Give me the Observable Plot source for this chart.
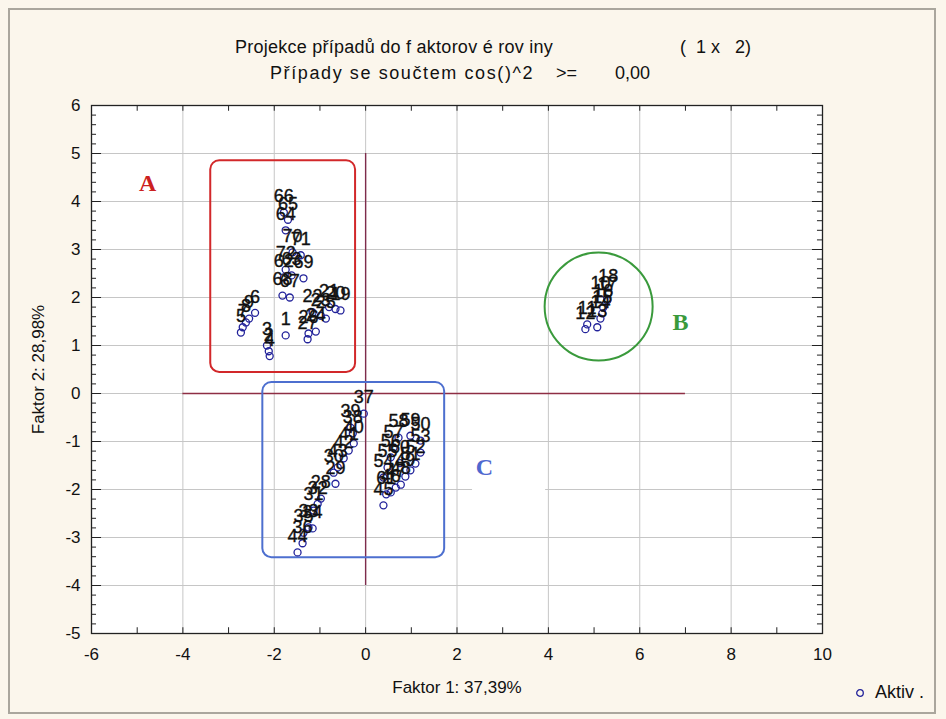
<!DOCTYPE html>
<html>
<head>
<meta charset="utf-8">
<script src="https://cdn.jsdelivr.net/npm/d3@7"></script>
<script src="https://cdn.jsdelivr.net/npm/@observablehq/plot@0.6"></script>
<style>
  html, body { margin: 0; padding: 0; background: #fbf6ec; }
  #fig { position: relative; width: 946px; height: 719px; background: #fbf6ec; overflow: hidden;
         font-family: "Liberation Sans", Arial, sans-serif; color: #111; }
  #border { position: absolute; left: 8px; top: 8px; width: 928px; height: 706px;
            border: 2px solid #aaa69d; box-sizing: border-box; pointer-events: none; }
  #header { position: relative; height: 90px; }
  .t { position: absolute; white-space: pre; font-size: 18px; line-height: 20px; }
  #t1 { letter-spacing: 0.25px; }
  #t2 { letter-spacing: 1.6px; }
  #chart { position: relative; }
  #legend { position: absolute; left: 855px; top: 682px; font-size: 18px; white-space: pre; }
  #legend svg { vertical-align: middle; margin-right: 10px; }
</style>
</head>
<body>
<div id="fig">
  <div id="header">
    <div class="t" id="t1" style="left:235px; top:37px;"></div>
    <div class="t" id="t1b" style="left:680px; top:37px;"></div>
    <div class="t" id="t2" style="left:270px; top:63px;"></div>
    <div class="t" id="t2b" style="left:556px; top:63px;"></div>
    <div class="t" id="t2c" style="left:615px; top:63px;"></div>
  </div>
  <div id="chart"></div>
  <div id="legend"><svg width="10" height="10"><circle cx="5" cy="5" r="3.3" fill="none" stroke="#22229a" stroke-width="1.3"/></svg><span id="legendText"></span></div>
  <div id="border"></div>
</div>
<script>
// Case coordinates on the first two factors
const caseIds = [
  1, 2, 3, 4, 5, 6, 7, 8, 9,
  10, 11, 12, 13, 14, 15, 16, 17, 18,
  19, 20, 21, 22, 23, 24, 25, 26, 27,
  28, 29, 30, 31, 32, 33, 34, 35, 36, 37, 38, 39, 40, 41, 42, 43, 44,
  45, 46, 47, 48, 49, 50, 51, 52, 53, 54, 55, 56, 57, 58, 59, 60, 61,
  62, 63, 64, 65, 66, 67, 68, 69, 70, 71, 72
];
const factor1 = [
  -1.75, -2.12, -2.16, -2.10, -2.73, -2.42, -2.69, -2.62, -2.55,
  5.14, 4.85, 4.81, 5.07, 5.14, 5.18, 5.20, 5.29, 5.31,
  -0.55, -0.66, -0.80, -1.16, -0.98, -1.09, -0.87, -1.25, -1.27,
  -0.98, -0.66, -0.70, -1.14, -1.05, -1.25, -1.16, -1.36, -1.38, -0.04, -0.28, -0.33, -0.26, -0.37, -0.48, -0.61, -1.49,
  0.39, 0.55, 0.66, 0.77, 0.87, 1.20, 0.98, 1.09, 1.20, 0.39, 0.48, 0.55, 0.61, 0.72, 0.98, 0.75, 0.45,
  -1.79, -1.62, -1.75, -1.70, -1.79, -1.66, -1.82, -1.36, -1.60, -1.42, -1.75
];
const factor2 = [
  1.21, 0.88, 1.00, 0.78, 1.27, 1.68, 1.38, 1.48, 1.56,
  1.96, 1.44, 1.34, 1.38, 1.56, 1.67, 1.79, 1.94, 2.10,
  1.73, 1.76, 1.80, 1.69, 1.62, 1.29, 1.56, 1.25, 1.13,
  -2.19, -1.88, -1.65, -2.44, -2.30, -2.79, -2.81, -2.90, -3.12, -0.42, -0.83, -0.71, -1.04, -1.19, -1.35, -1.54, -3.31,
  -2.33, -2.06, -1.96, -1.90, -1.73, -0.98, -1.60, -1.46, -1.23, -1.75, -1.54, -1.33, -1.13, -0.92, -0.88, -1.45, -2.10,
  2.42, 2.46, 3.40, 3.62, 3.77, 2.00, 2.04, 2.40, 2.94, 2.88, 2.58
];

// Axis ticks and texts
const xTicks = [-6, -4, -2, 0, 2, 4, 6, 8, 10];
const yTicks = [-5, -4, -3, -2, -1, 0, 1, 2, 3, 4, 5, 6];
const xLabel = "Faktor 1: 37,39%";
const yLabel = "Faktor 2: 28,98%";
const titleLine1 = "Projekce případů do f aktorov é rov iny";
const titleLine1b = "(  1 x   2)";
const titleLine2 = "Případy se součtem cos()^2";
const titleLine2b = ">=";
const titleLine2c = "0,00";
const legendLabel = "Aktiv .";

// Group outlines and their letters
const groupNames = ["A", "B", "C"];
const groupColors = ["#cc2020", "#3a9a3c", "#4f68cf"];
const letterX = [-4.77, 6.89, 2.60];
const letterY = [4.375, 1.48, -1.54];
const boxX1 = [-3.39, -2.25];
const boxX2 = [-0.22, 1.73];
const boxY1 = [0.44, -3.42];
const boxY2 = [4.85, 0.23];
const boxColors = ["#d2282a", "#4d6fcf"];
const circleCenter = [5.10, 1.81];

document.getElementById("t1").textContent = titleLine1;
document.getElementById("t1b").textContent = titleLine1b;
document.getElementById("t2").textContent = titleLine2;
document.getElementById("t2b").textContent = titleLine2b;
document.getElementById("t2c").textContent = titleLine2c;
document.getElementById("legendText").textContent = legendLabel;

const cases = caseIds.map((id, i) => ({id, f1: factor1[i], f2: factor2[i]}));
const boxes = boxX1.map((x1, i) => ({x1, x2: boxX2[i], y1: boxY1[i], y2: boxY2[i], color: boxColors[i]}));
const letters = groupNames.map((name, i) => ({name, x: letterX[i], y: letterY[i], color: groupColors[i]}));
// White patch under the "C" letter
const patches = [{x1: 2.34, x2: 3.94, y1: -2.23, y2: -1.19}];

const xMinor = d3.range(-6, 10.001, 1);
const yMinor = d3.range(-5, 6.001, 0.2).map(v => Math.round(v * 10) / 10);
const xLen = 0.12, yLen = 0.11; // inward tick lengths in data units

const fontFamily = '"Liberation Sans", Arial, sans-serif';

const chart = Plot.plot({
  width: 946,
  height: 629,
  marginLeft: 91,
  marginRight: 124,
  marginTop: 15,
  marginBottom: 86,
  x: {domain: [-6, 10], axis: null},
  y: {domain: [-5, 6], axis: null},
  style: {background: "transparent", fontFamily, fontSize: "16px", color: "#111", overflow: "visible"},
  marks: [
    Plot.frame({fill: "white", stroke: null}),
    Plot.gridX(xTicks, {stroke: "#c6c6c6", strokeOpacity: 1}),
    Plot.gridY(yTicks, {stroke: "#c6c6c6", strokeOpacity: 1}),
    Plot.rect(patches, {x1: "x1", x2: "x2", y1: "y1", y2: "y2", fill: "white"}),
    // origin cross
    Plot.ruleY([0], {x1: -4, x2: 7, stroke: "#8e2e44", strokeWidth: 1.4}),
    Plot.ruleX([0], {y1: -4, y2: 5, stroke: "#7e2c4c", strokeWidth: 1.4}),
    // group outlines
    Plot.rect(boxes, {x1: "x1", x2: "x2", y1: "y1", y2: "y2", rx: 9, fill: "none", stroke: "color", strokeWidth: 2}),
    Plot.dot([circleCenter], {x: d => d[0], y: d => d[1], r: 54, fill: "none", stroke: "#3a9a3c", strokeWidth: 2}),
    // cases
    Plot.dot(cases, {x: "f1", y: "f2", r: 3.5, fill: "none", stroke: "#22229a", strokeWidth: 1.3}),
    Plot.text(cases, {x: "f1", y: "f2", text: d => String(d.id), dy: -16, fontSize: 18, fill: "#111",
      stroke: "#111", strokeWidth: 0.35}),
    // group letters
    Plot.text(letters, {x: "x", y: "y", text: "name", fill: "color", fontSize: 24, fontWeight: "bold",
      fontFamily: '"Liberation Serif", "DejaVu Serif", serif'}),
    // inward ticks on all four sides
    Plot.ruleX(xMinor, {y1: -5, y2: -5 + xLen, stroke: "#222"}),
    Plot.ruleX(xMinor, {y1: 6, y2: 6 - xLen, stroke: "#222"}),
    Plot.ruleY(yMinor, {x1: -6, x2: -6 + yLen, stroke: "#222"}),
    Plot.ruleY(yMinor, {x1: 10, x2: 10 - yLen, stroke: "#222"}),
    Plot.ruleY(yTicks, {x1: -6, x2: -6 + 2 * yLen, stroke: "#222"}),
    Plot.ruleY(yTicks, {x1: 10, x2: 10 - 2 * yLen, stroke: "#222"}),
    Plot.frame({stroke: "#222", strokeWidth: 1.3}),
    Plot.axisX(xTicks, {tickSize: 0, tickPadding: 14, tickFormat: d => String(d), fontSize: 17}),
    Plot.axisY(yTicks, {tickSize: 0, tickPadding: 11, tickFormat: d => String(d), fontSize: 17}),
    Plot.text([xLabel], {frameAnchor: "bottom", dy: 59, fontSize: 17}),
    Plot.text([yLabel], {frameAnchor: "left", dx: -53, rotate: -90, textAnchor: "middle", fontSize: 17})
  ]
});
document.getElementById("chart").appendChild(chart);
</script>
</body>
</html>
